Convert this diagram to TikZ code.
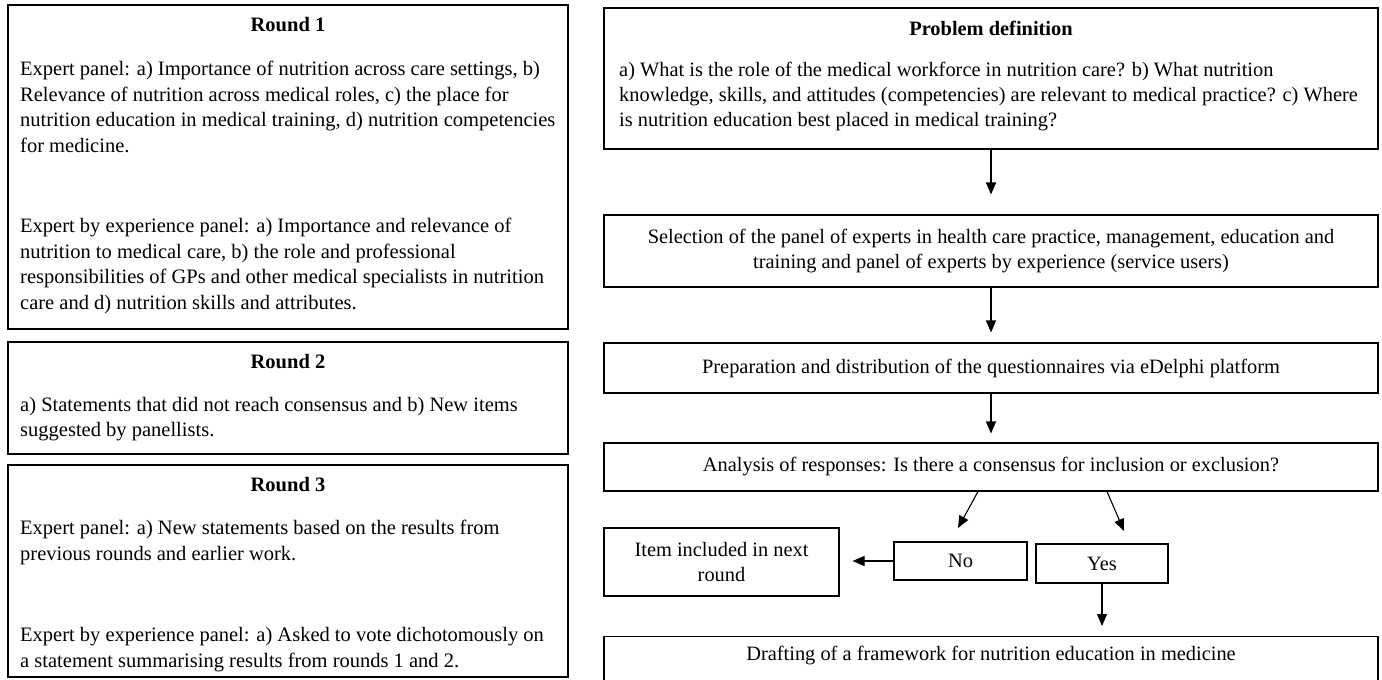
\documentclass[tikz,border=0pt]{standalone}
\usepackage{fontspec}
\setmainfont{Liberation Serif}
\usetikzlibrary{arrows.meta}

\begin{document}
\begin{tikzpicture}[x=1pt,y=-1pt,
    box/.style={draw,line width=1.1pt,inner sep=0pt},
    txt/.style={inner sep=0pt,font=\fontsize{20.5}{25.6}\selectfont},
    rtxt/.style={inner sep=0pt,font=\fontsize{20.4}{25.2}\selectfont},
    para/.style={txt,anchor=north west,align=left},
    head/.style={txt,font=\fontsize{20.5}{25.6}\selectfont\bfseries},
    arr/.style={-{Triangle[length=12pt,width=10pt]},line width=1.1pt}]
  \useasboundingbox (0,0) rectangle (1382,680);

  % left column: the three rounds
  \node[box,minimum width=560pt,minimum height=324pt] (r1) at (288,167) {};
  \node[head] (r1h) at (288,25) {Round 1};
  \node[para] (r1a) at (20,61) {Expert panel: a) Importance of nutrition across care settings, b)\\Relevance of nutrition across medical roles, c) the place for\\nutrition education in medical training, d) nutrition competencies\\for medicine.};
  \node[para] (r1b) at (20,218) {Expert by experience panel: a) Importance and relevance of\\nutrition to medical care, b) the role and professional\\responsibilities of GPs and other medical specialists in nutrition\\care and d) nutrition skills and attributes.};

  \node[box,minimum width=560pt,minimum height=112pt] (r2) at (288,398) {};
  \node[head] (r2h) at (288,362) {Round 2};
  \node[para,font=\fontsize{20.5}{25.2}\selectfont] (r2a) at (20,397) {a) Statements that did not reach consensus and b) New items\\suggested by panellists.};

  \node[box,minimum width=560pt,minimum height=212pt] (r3) at (288,571) {};
  \node[head] (r3h) at (288,485) {Round 3};
  \node[para] (r3a) at (20,520) {Expert panel: a) New statements based on the results from\\previous rounds and earlier work.};
  \node[para] (r3b) at (20,627) {Expert by experience panel: a) Asked to vote dichotomously on\\a statement summarising results from rounds 1 and 2.};

  % right column: the flow
  \node[box,minimum width=774pt,minimum height=141pt] (prob) at (991,78.5) {};
  \node[rtxt,font=\fontsize{20.4}{25.2}\selectfont\bfseries] (probh) at (991,28) {Problem definition};
  \node[rtxt,anchor=north west,align=left,font=\fontsize{20.4}{25}\selectfont] (proba) at (619,62) {a) What is the role of the medical workforce in nutrition care? b) What nutrition\\knowledge, skills, and attitudes (competencies) are relevant to medical practice? c) Where\\is nutrition education best placed in medical training?};

  \node[box,rtxt,align=center,minimum width=774pt,minimum height=72pt] (sel) at (991,251)
    {Selection of the panel of experts in health care practice, management, education and\\training and panel of experts by experience (service users)};
  \node[box,rtxt,minimum width=774pt,minimum height=50pt] (prep) at (991,368)
    {Preparation and distribution of the questionnaires via eDelphi platform};
  \node[box,rtxt,minimum width=774pt,minimum height=48pt] (ana) at (991,467)
    {Analysis of responses: Is there a consensus for inclusion or exclusion?};

  \node[box,rtxt,align=center,minimum width=235pt,minimum height=68pt] (item) at (721.5,562)
    {Item included in next\\round};
  \node[box,rtxt,minimum width=133pt,minimum height=38pt] (no) at (960.5,561) {No};
  \node[box,rtxt,minimum width=132pt,minimum height=39pt] (yes) at (1102,563.5) {Yes};

  \node[box,anchor=north,minimum width=774pt,minimum height=60pt] (draft) at (991,636) {};
  \node[rtxt] (drafta) at (991,656) {Drafting of a framework for nutrition education in medicine};

  \coordinate (noEnd) at (958,528);
  \coordinate (yesEnd) at (1124,531);

  \draw[arr,shorten >=20pt] (prob) -- (sel);
  \draw[arr,shorten >=10pt] (sel) -- (prep);
  \draw[arr,shorten >=9pt] (prep) -- (ana);
  \draw[arr] ([xshift=-13pt]ana.south) -- (noEnd);
  \draw[arr] ([xshift=116pt]ana.south) -- (yesEnd);
  \draw[arr,shorten >=13pt] (no.west) -- (no.west -| item.east);
  \draw[arr,shorten >=10pt] (yes) -- (yes |- draft.north);

\end{tikzpicture}
\end{document}
